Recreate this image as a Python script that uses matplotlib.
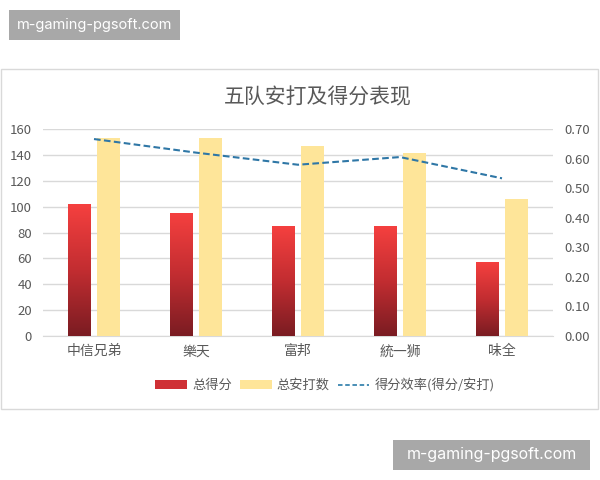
import matplotlib
matplotlib.use("Agg")
import matplotlib.pyplot as plt
import numpy as np
from matplotlib.patches import Rectangle, Patch
from matplotlib.lines import Line2D
from matplotlib.colors import LinearSegmentedColormap

plt.rcParams['font.family'] = ['Noto Sans CJK SC', 'DejaVu Sans']

teams = ["中信兄弟", "樂天", "富邦", "統一狮", "味全"]
runs = [102, 95, 85, 85, 57]
hits = [153, 153, 147, 142, 106]
efficiency = [0.667, 0.621, 0.580, 0.606, 0.534]
left_ticks = [0, 20, 40, 60, 80, 100, 120, 140, 160]
right_ticks = [0.0, 0.1, 0.2, 0.3, 0.4, 0.5, 0.6, 0.7]

TXT = "#595959"
GRID = "#d9d9d9"
W, H = 600, 480

fig = plt.figure(figsize=(6, 4.8), dpi=100)

def fx(px):
    return px / W

def fy(py):
    return 1 - py / H

# chart border
fig.patches.append(Rectangle((fx(1), fy(408.7)), fx(597.5) - fx(1), fy(69.3) - fy(408.7),
                             transform=fig.transFigure, fill=False, edgecolor=GRID, lw=1.0))

ax = fig.add_axes([fx(43), fy(336), fx(553) - fx(43), fy(129.3) - fy(336)])
x = np.arange(len(teams))
bw = 0.225
off = 0.145

red_cmap = LinearSegmentedColormap.from_list("r", ["#7a1c22", "#c22d31", "#f5403f"])
rbars = ax.bar(x - off, runs, bw, color="none", zorder=3)
grad = np.linspace(0, 1, 256).reshape(-1, 1)
for b in rbars:
    x0, y0 = b.get_x(), b.get_y()
    ax.imshow(grad, extent=[x0, x0 + b.get_width(), y0, y0 + b.get_height()],
              origin="lower", cmap=red_cmap, aspect="auto", zorder=3)
ax.bar(x + off, hits, bw, color="#fee599", zorder=3)

ax.set_xlim(-0.5, len(teams) - 0.5)
ax.set_ylim(0, 160)
ax.set_yticks(left_ticks)
ax.set_xticks(x)
ax.set_xticklabels(teams)
ax.yaxis.grid(True, color=GRID, lw=1.0, zorder=0)
ax.set_axisbelow(True)
for s in ["top", "right", "left"]:
    ax.spines[s].set_visible(False)
ax.spines["bottom"].set_color(GRID)
ax.tick_params(axis="both", length=0, colors=TXT, labelsize=9.5)
ax.tick_params(axis="y", pad=8)
ax.tick_params(axis="x", pad=6, labelsize=10)

ax2 = ax.twinx()
ax2.plot(x, efficiency, color="#2f77a6", lw=1.5, ls=(0, (3.2, 1.6)), zorder=4)
ax2.set_ylim(0, 0.7)
ax2.set_yticks(right_ticks)
ax2.set_yticklabels([f"{v:.2f}" for v in right_ticks])
ax2.tick_params(axis="y", length=0, colors=TXT, labelsize=9.5, pad=8)
for s in ax2.spines.values():
    s.set_visible(False)

fig.text(fx(318), fy(97), "五队安打及得分表现", ha="center", va="center", fontsize=15, color=TXT)

handles = [Patch(facecolor="#cf3035", edgecolor="none"),
           Patch(facecolor="#fee599", edgecolor="none"),
           Line2D([0], [0], color="#3a86b0", lw=1.3, ls=(0, (2.5, 1.5)))]
labels = ["总得分", "总安打数", "得分效率(得分/安打)"]
fig.legend(handles, labels, loc="center", bbox_to_anchor=(fx(325), fy(385)), ncol=3,
           frameon=False, fontsize=9.5, labelcolor=TXT, handlelength=2.4, handleheight=0.6,
           columnspacing=0.6, handletextpad=0.4)

# watermarks
def wm(x0, y0, x1, y1, fs):
    fig.patches.append(Rectangle((fx(x0), fy(y1)), fx(x1) - fx(x0), fy(y0) - fy(y1),
                                 transform=fig.transFigure, facecolor="#a8a8a8", edgecolor="none"))
    fig.text(fx((x0 + x1) / 2), fy((y0 + y1) / 2), "m-gaming-pgsoft.com", ha="center", va="center",
             color="white", fontsize=fs, family=["Inter", "DejaVu Sans"])

wm(9, 10, 180, 40, 10.5)
wm(393, 440, 590, 470, 11.5)

fig.savefig("out.png", dpi=100)
